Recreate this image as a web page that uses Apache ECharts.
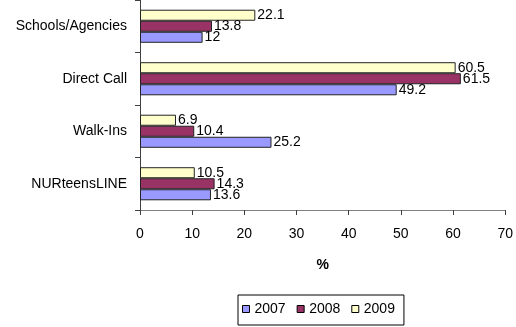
<!DOCTYPE html>
<html>
<head>
<meta charset="utf-8">
<script src="https://cdn.jsdelivr.net/npm/echarts@6/dist/echarts.min.js"></script>
<style>
html,body{margin:0;padding:0;background:#fff;}
#chart{width:516px;height:327px;}
</style>
</head>
<body>
<div id="chart"></div>
<script>
var categories = ['NURteensLINE', 'Walk-Ins', 'Direct Call', 'Schools/Agencies'];
var seriesNames = ['2007', '2008', '2009'];
var values2007 = [13.6, 25.2, 49.2, 12];
var values2008 = [14.3, 10.4, 61.5, 13.8];
var values2009 = [10.5, 6.9, 60.5, 22.1];
var xTicks = [0, 10, 20, 30, 40, 50, 60, 70];
var colors = ['#9999FF', '#993366', '#FFFFCC'];

var FONT = 'Liberation Sans, Arial, sans-serif';
var allValues = [values2007, values2008, values2009];

var chart = echarts.init(document.getElementById('chart'), null, {renderer: 'canvas'});
var series = seriesNames.map(function (name, i) {
  return {
    name: name,
    type: 'bar',
    data: allValues[i],
    barGap: '0%',
    barCategoryGap: '37%',
    itemStyle: {color: colors[i], borderColor: '#222', borderWidth: 1},
    label: {
      show: true, position: 'right', distance: 2,
      color: '#000', fontSize: 14, fontFamily: FONT
    },
    emphasis: {disabled: true}
  };
}).reverse();

chart.setOption({
  animation: false,
  backgroundColor: '#fff',
  grid: {left: 140, right: 10, top: 0, bottom: 117, containLabel: false},
  xAxis: {
    type: 'value',
    min: xTicks[0], max: xTicks[xTicks.length - 1], interval: 10,
    name: '%', nameLocation: 'middle', nameGap: 48,
    nameTextStyle: {fontWeight: 'bold', fontSize: 14, color: '#000', fontFamily: FONT},
    axisLine: {show: true, lineStyle: {color: '#808080', width: 1}},
    axisTick: {show: true, length: 5, lineStyle: {color: '#404040'}},
    axisLabel: {color: '#000', fontSize: 14, fontFamily: FONT, margin: 17},
    splitLine: {show: false}
  },
  yAxis: {
    type: 'category',
    data: categories,
    axisLine: {show: true, lineStyle: {color: '#404040', width: 1}},
    axisTick: {show: true, length: 5, alignWithLabel: false, lineStyle: {color: '#404040'}},
    axisLabel: {color: '#000', fontSize: 14, fontFamily: FONT, margin: 13},
    splitLine: {show: false}
  },
  legend: {
    data: seriesNames,
    left: 238, top: 295,
    orient: 'horizontal',
    padding: [7, 9, 9, 4],
    itemGap: 11,
    itemWidth: 7, itemHeight: 7,
    icon: 'rect',
    borderColor: '#000', borderWidth: 1,
    itemStyle: {borderColor: '#000', borderWidth: 1},
    textStyle: {color: '#000', fontSize: 14, fontFamily: FONT}
  },
  series: series
});
</script>
</body>
</html>
